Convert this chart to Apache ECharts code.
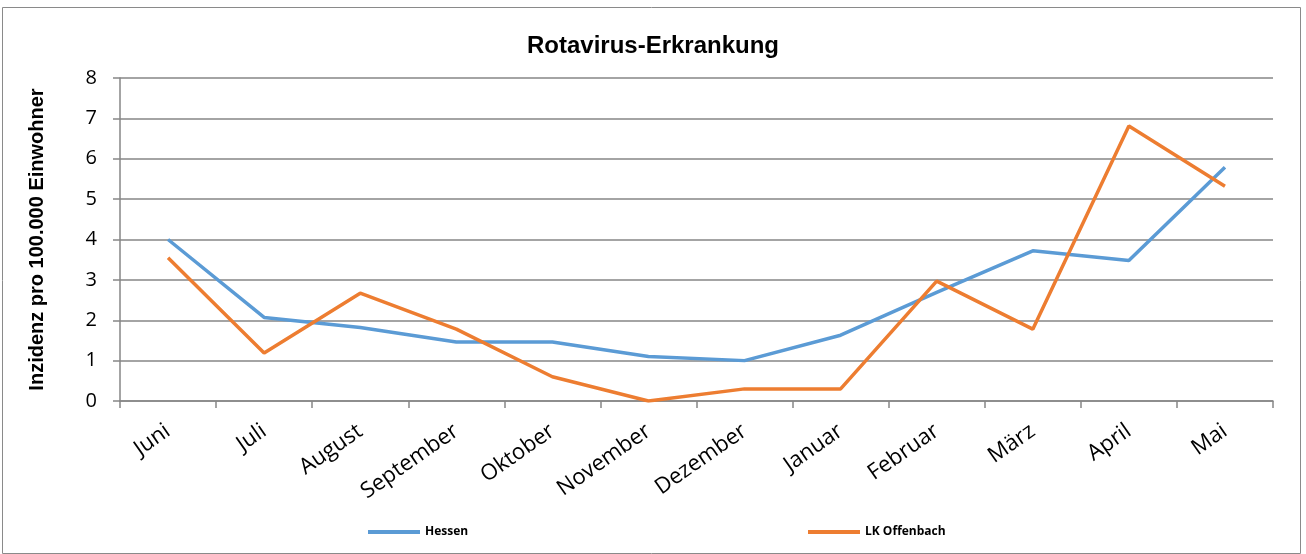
<!DOCTYPE html>
<html>
<head>
<meta charset="utf-8">
<script src="https://cdn.jsdelivr.net/npm/echarts@6/dist/echarts.min.js"></script>
<style>
  html, body { margin: 0; padding: 0; background: #fff; }
  #chart { width: 1306px; height: 554px; }
</style>
</head>
<body>
<div id="chart"></div>
<script>
const months = ['Juni', 'Juli', 'August', 'September', 'Oktober', 'November', 'Dezember', 'Januar', 'Februar', 'März', 'April', 'Mai'];
const hessen = [4.0, 2.07, 1.82, 1.46, 1.46, 1.1, 1.0, 1.63, 2.69, 3.72, 3.48, 5.79];
const offenbach = [3.55, 1.19, 2.67, 1.78, 0.6, 0.0, 0.3, 0.3, 2.97, 1.78, 6.81, 5.32];
const yTicks = { min: 0, max: 8, step: 1 };

const axisGray = '#868686';
const labelFont = '"Open Sans", "Noto Sans", sans-serif';
const boldFont = '"Liberation Sans", Arial, sans-serif';

const chart = echarts.init(document.getElementById('chart'));

const legendStyle = {
  icon: 'rect',
  itemWidth: 52,
  itemHeight: 4,
  itemGap: 4,
  top: 521,
  textStyle: { fontFamily: labelFont, fontWeight: 'bold', fontSize: 12, color: '#000' },
};

chart.setOption({
  animation: false,
  color: ['#5B9BD5', '#ED7D31'],
  title: {
    text: 'Rotavirus-Erkrankung',
    left: 'center',
    top: 29,
    textStyle: { fontFamily: boldFont, fontWeight: 'bold', fontSize: 24, color: '#000' },
  },
  legend: [
    Object.assign({ left: 363, data: ['Hessen'] }, legendStyle),
    Object.assign({ left: 803, data: ['LK Offenbach'] }, legendStyle),
  ],
  graphic: [
    {
      type: 'rect',
      shape: { x: 2.5, y: 7.5, width: 1298, height: 546 },
      style: { fill: 'none', stroke: '#8a8a8a', lineWidth: 1 },
      silent: true,
    },
  ],
  grid: { left: 120, right: 33, top: 78, bottom: 153, containLabel: false },
  xAxis: {
    type: 'category',
    data: months,
    boundaryGap: true,
    axisLine: { lineStyle: { color: axisGray, width: 1.5 } },
    axisTick: { show: true, length: 7, lineStyle: { color: axisGray, width: 1.5 } },
    axisLabel: {
      interval: 0,
      rotate: 35,
      margin: 28,
      fontFamily: labelFont,
      fontSize: 22,
      color: '#000',
    },
  },
  yAxis: {
    type: 'value',
    min: yTicks.min,
    max: yTicks.max,
    interval: yTicks.step,
    name: 'Inzidenz pro 100.000 Einwohner',
    nameLocation: 'middle',
    nameGap: 73,
    nameRotate: 90,
    nameTextStyle: { fontFamily: boldFont, fontWeight: 'bold', fontSize: 20, color: '#000' },
    axisLine: { show: true, lineStyle: { color: axisGray, width: 1.5 } },
    axisTick: { show: true, length: 7, lineStyle: { color: axisGray, width: 1.5 } },
    axisLabel: { margin: 23, fontFamily: labelFont, fontSize: 20, color: '#000' },
    splitLine: { lineStyle: { color: axisGray, width: 1.5 } },
  },
  series: [
    {
      name: 'Hessen',
      type: 'line',
      data: hessen,
      showSymbol: false,
      lineStyle: { width: 3.5, color: '#5B9BD5' },
    },
    {
      name: 'LK Offenbach',
      type: 'line',
      data: offenbach,
      showSymbol: false,
      lineStyle: { width: 3.5, color: '#ED7D31' },
    },
  ],
});
</script>
</body>
</html>
